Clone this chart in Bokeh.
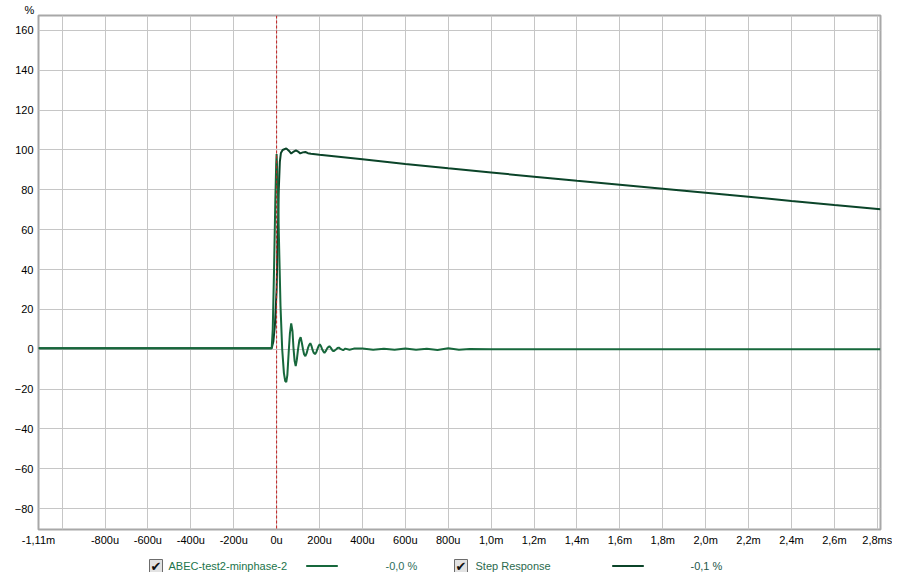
from bokeh.plotting import figure
from bokeh.models import Range1d, FixedTicker, Span
from bokeh.layouts import column
from bokeh.core.properties import value
from bokeh.embed import file_html
from bokeh.resources import INLINE

# ---------------- data (time in ms, values in %) ----------------
imp_t = [-1.11, -0.9, -0.6, -0.3, -0.023, -0.018, -0.012, -0.006, -0.002, 0.0,
         0.006, 0.012, 0.018, 0.026, 0.034, 0.040, 0.045, 0.050, 0.056, 0.062,
         0.068, 0.074, 0.079, 0.084, 0.089, 0.094, 0.100, 0.106, 0.112, 0.118,
         0.123, 0.128, 0.134, 0.140, 0.146, 0.151, 0.157, 0.163, 0.168, 0.173,
         0.179, 0.185, 0.190, 0.195, 0.201, 0.207, 0.212, 0.218, 0.223, 0.229,
         0.235, 0.240, 0.246, 0.252, 0.258, 0.262, 0.266, 0.272, 0.278, 0.284,
         0.290, 0.300, 0.310, 0.320, 0.340, 0.360, 0.400, 0.450, 0.500, 0.550,
         0.600, 0.650, 0.700, 0.750, 0.800, 0.850, 0.900, 1.0, 1.5, 2.0, 2.5, 2.815]
imp_v = [0.5, 0.5, 0.5, 0.5, 0.5, 10, 40, 75, 93, 98,
         80, 50, 22, 0, -12, -16, -16.5, -13, -2, 8,
         13, 9, 0, -6, -8.5, -5.5, 0, 4.5, 6, 3,
         0, -2.5, -3.5, -2, 0.5, 2, 3, 1.5, -0.5, -1.8,
         -2.5, -1.5, 0, 1.5, 2.5, 1.5, 0, -1.2, -1.8, -1,
         0.3, 1, 1.5, 0.8, -0.2, -0.8, -1, -0.5, 0, 0.6,
         0.8, 0, -0.5, 0.3, -0.3, 0.3, 0.3, -0.3, 0.2, -0.3,
         0.4, -0.3, 0.2, -0.4, 0.5, -0.3, 0.1, 0.0, 0.0, 0.0, 0.0, 0.0]

step_t = [-1.11, -0.6, -0.023, -0.015, -0.008, 0.0, 0.005, 0.010, 0.015, 0.020,
          0.028, 0.045, 0.058, 0.068, 0.080, 0.090, 0.100, 0.110, 0.122, 0.134,
          0.146, 0.160, 0.2, 0.4, 0.6, 0.8, 1.0, 1.2, 1.4, 1.6, 1.8, 2.0, 2.2,
          2.4, 2.6, 2.815]
step_v = [0.5, 0.5, 0.5, 4, 12, 30, 55, 80, 94, 98.5,
          100, 100.8, 99.5, 98.2, 99.2, 99.8, 99.2, 98.3, 98.8, 99.0,
          98.4, 98.1, 97.6, 95.3, 93.0, 90.8, 88.7, 86.6, 84.5, 82.5, 80.5, 78.5, 76.5,
          74.4, 72.4, 70.3]

x_ticks = [-1.11, -1.0, -0.8, -0.6, -0.4, -0.2, 0.0, 0.2, 0.4, 0.6, 0.8, 1.0,
           1.2, 1.4, 1.6, 1.8, 2.0, 2.2, 2.4, 2.6, 2.8]
x_labels = ["-1,11m", "", "-800u", "-600u", "-400u", "-200u", "0u", "200u", "400u",
            "600u", "800u", "1,0m", "1,2m", "1,4m", "1,6m", "1,8m", "2,0m", "2,2m",
            "2,4m", "2,6m", "2,8ms"]
y_ticks = [-80, -60, -40, -20, 0, 20, 40, 60, 80, 100, 120, 140, 160]

series_names = ["ABEC-test2-minphase-2", "Step Response"]
series_readouts = ["-0,0 %", "-0,1 %"]
series_colors = ["#17683c", "#0b4429"]

FONT = "Liberation Sans"

# ---------------- main plot ----------------
p = figure(width=892, height=548, output_backend="svg", toolbar_location=None,
           x_range=Range1d(-1.11, 2.815), y_range=Range1d(-90.5, 167.5),
           min_border_left=38, min_border_right=12, min_border_top=15,
           min_border_bottom=18)
p.background_fill_color = "white"
p.border_fill_color = "white"
p.outline_line_color = "#a8a8a8"
p.outline_line_width = 2

p.title.text = "%"
p.title.align = "left"
p.title.offset = -14
p.title.standoff = 0
p.title.text_font = FONT
p.title.text_font_size = "11px"
p.title.text_font_style = "normal"
p.title.text_color = "#000000"

p.xaxis.ticker = FixedTicker(ticks=x_ticks)
p.xaxis.major_label_overrides = dict(zip(x_ticks, x_labels))
p.yaxis.ticker = FixedTicker(ticks=y_ticks)
for ax in (p.xaxis, p.yaxis):
    ax.axis_line_color = None
    ax.major_tick_line_color = None
    ax.minor_tick_line_color = None
    ax.major_tick_out = 0
    ax.major_tick_in = 0
    ax.major_label_text_font = FONT
    ax.major_label_text_font_size = "11px"
    ax.major_label_text_color = "#000000"
p.xaxis.major_label_standoff = 4
p.yaxis.major_label_standoff = 5

p.grid.grid_line_color = "#c6c6c6"
p.grid.grid_line_width = 1

p.add_layout(Span(location=0, dimension="height", line_color="#c41e1e",
                  line_dash="3 2", line_width=1))

p.line(step_t, step_v, line_color=series_colors[1], line_width=2)
p.line(imp_t, imp_v, line_color=series_colors[0], line_width=2)

# ---------------- legend strip (x in page pixels; frame aligned to main frame) ----
lg = figure(width=892, height=24, output_backend="svg", toolbar_location=None,
            x_range=Range1d(38, 880), y_range=Range1d(0, 24),
            x_axis_type=None, y_axis_type=None,
            min_border_left=38, min_border_right=12, min_border_top=0,
            min_border_bottom=0)
lg.outline_line_color = None
lg.grid.visible = False
lg.background_fill_color = "white"
lg.border_fill_color = "white"

cy = 6.5
lg.rect(x=[155.5, 460.5], y=[cy, cy], width=13, height=13,
        fill_color="#e2e2e2", line_color="#6c6c6c", line_width=1)
lg.text(x=[155.5, 460.5], y=[cy, cy], text=["✔", "✔"],
        text_font=value("DejaVu Sans"), text_font_size="13px",
        text_align="center", text_baseline="middle", text_color="#111111")
lg.text(x=[168, 475], y=[cy, cy], text=series_names,
        text_font=value(FONT), text_font_size="11px", text_align="left",
        text_baseline="middle", text_color=["#21744a", "#2b6a4e"])
lg.segment(x0=[305.7, 611.7], x1=[337.3, 643.3], y0=[cy, cy], y1=[cy, cy],
           line_color=series_colors, line_width=2)
lg.text(x=[385, 690], y=[cy, cy], text=series_readouts,
        text_font=value(FONT), text_font_size="11px", text_align="left",
        text_baseline="middle", text_color=["#2d6e5a", "#25574a"])

layout = column(p, lg, spacing=0)
open("out.html", "w").write(file_html(layout, INLINE))
